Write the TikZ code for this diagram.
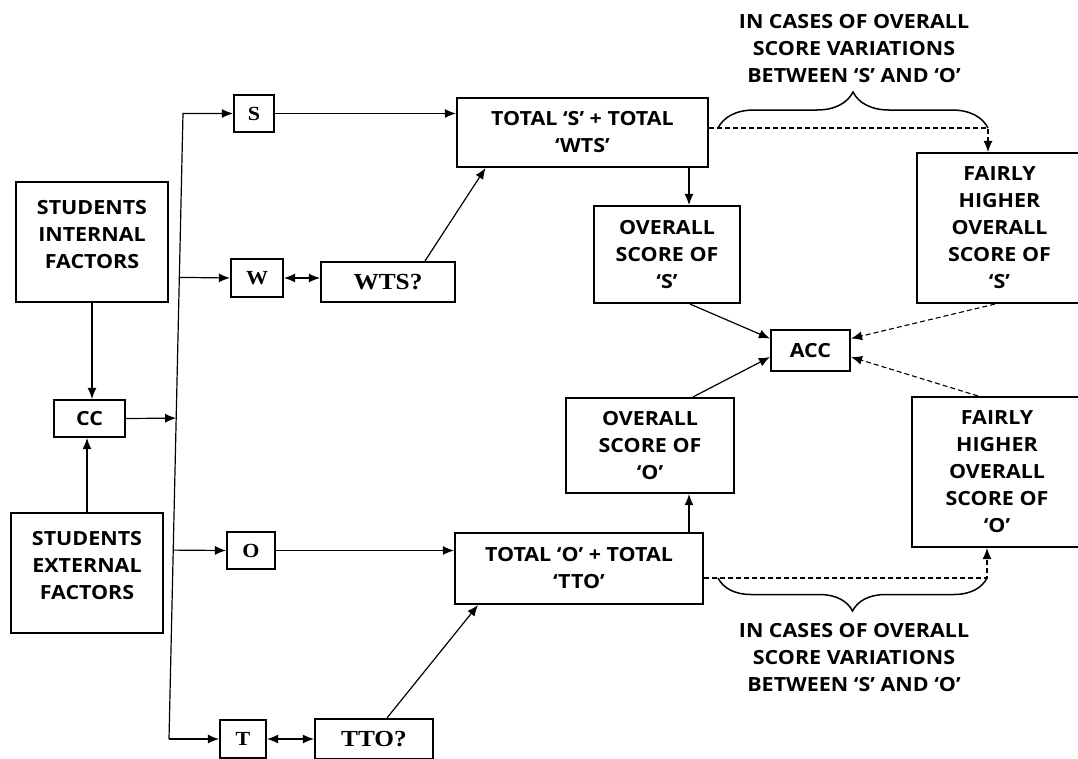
\documentclass[tikz,border=0pt]{standalone}
\usepackage{fontspec}
\setmainfont{Open Sans}[FakeStretch=1.1]
\newfontfamily\timesbox{Liberation Serif}[FakeStretch=1.1]
\usetikzlibrary{arrows.meta,calc,decorations.pathreplacing}

\begin{document}
\begin{tikzpicture}[
  x=1pt,
  y=-1pt,
  >={Latex[length=11pt,width=9pt]},
  every node/.style={font=\bfseries\fontsize{19.5}{27}\selectfont},
  box/.style={draw=black, line width=2.1pt, align=center, inner sep=0pt},
  letterbox/.style={box, font=\timesbox\bfseries\fontsize{20}{22}\selectfont},
  askbox/.style={box, font=\timesbox\bfseries\fontsize{23}{26}\selectfont},
  link/.style={->, line width=1.2pt},
  dashlink/.style={->, line width=1.1pt, dash pattern=on 5pt off 3pt},
  brace/.style={decorate, decoration={brace, amplitude=#1}, line width=1.5pt},
  note/.style={align=center}
]
  \useasboundingbox (0,0) rectangle (1078,758);
  \clip (0,0) rectangle (1078,758);

  % factors and CC
  \node[box, minimum width=152, minimum height=120] (inF) at (92,242) {STUDENTS\\INTERNAL\\FACTORS\\[-11pt]\mbox{}};
  \node[box, minimum width=71, minimum height=37] (cc) at (89.5,418.5) {CC};
  \node[box, minimum width=152, minimum height=120] (exF) at (87,573) {STUDENTS\\EXTERNAL\\FACTORS\\[-11pt]\mbox{}};

  % letter boxes
  \node[letterbox, minimum width=40, minimum height=37] (sbox) at (254,113.5) {S};
  \node[letterbox, minimum width=52, minimum height=38] (wbox) at (257,278) {W};
  \node[askbox, minimum width=134, minimum height=40] (wts) at (388,282) {WTS?};
  \node[letterbox, minimum width=48, minimum height=37] (obox) at (251,550.5) {O};
  \node[letterbox, minimum width=46, minimum height=38] (tbox) at (243,739) {T};
  \node[askbox, minimum width=118, minimum height=40] (tto) at (374,739) {TTO?};

  % totals and scores
  \node[box, minimum width=251, minimum height=69] (totS) at (582.5,132.5) {TOTAL ‘S’ + TOTAL\\‘WTS’};
  \node[box, minimum width=146, minimum height=97] (ovS) at (667,254.5) {OVERALL\\SCORE OF\\‘S’};
  \node[box, minimum width=165, minimum height=150] (fairS) at (999.5,228) {FAIRLY\\HIGHER\\OVERALL\\SCORE OF\\‘S’};
  \node[box, minimum width=79, minimum height=41] (acc) at (810.5,350.5) {ACC};
  \node[box, minimum width=168, minimum height=95] (ovO) at (650,445.5) {OVERALL\\SCORE OF\\‘O’};
  \node[box, minimum width=170, minimum height=150] (fairO) at (997,472) {FAIRLY\\HIGHER\\OVERALL\\SCORE OF\\‘O’};
  \node[box, minimum width=248, minimum height=71] (totO) at (579,568.5) {TOTAL ‘O’ + TOTAL\\‘TTO’};

  % notes
  \node[note] (noteS) at (854,49) {IN CASES OF OVERALL\\SCORE VARIATIONS\\BETWEEN ‘S’ AND ‘O’};
  \node[note] (noteO) at (854,658) {IN CASES OF OVERALL\\SCORE VARIATIONS\\BETWEEN ‘S’ AND ‘O’};

  % bus
  \coordinate (busTop) at (183,113.5);
  \coordinate (busBot) at (169,739);
  \coordinate (jW) at ($(busTop)!0.262!(busBot)$);
  \coordinate (jC) at ($(busTop)!0.487!(busBot)$);
  \coordinate (jO) at ($(busTop)!0.698!(busBot)$);

  \draw[link] (inF.south) -- (inF.south |- cc.north);
  \draw[link] (exF.north) -- (exF.north |- cc.south);
  \draw[link] (cc.east) -- (jC);
  \draw[link] (busBot) -- (busTop) -- (sbox.west);
  \draw[link] (busBot) -- (tbox.west);
  \draw[link] (jW) -- (wbox.west);
  \draw[link] (jO) -- (obox.west);

  \draw[link, <->] (wbox.east) -- (wbox.east -| wts.west);
  \draw[link, <->] (tbox.east) -- (tbox.east -| tto.west);
  \draw[link] (sbox.east) -- (sbox.east -| totS.west);
  \draw[link] (obox.east) -- (obox.east -| totO.west);
  \draw[link] ([xshift=37pt]wts.north) -- ([xshift=-97pt]totS.south);
  \draw[link] ([xshift=13pt]tto.north) -- ([xshift=-101pt]totO.south);

  \draw[link] ([xshift=22pt]ovS.north |- totS.south) -- ([xshift=22pt]ovS.north);
  \draw[link] ([xshift=39pt]ovO.south |- totO.north) -- ([xshift=39pt]ovO.south);

  \draw[link] ([xshift=23pt]ovS.south) -- ([yshift=12pt]acc.west);
  \draw[link] ([xshift=43pt]ovO.north) -- ([yshift=-6.5pt]acc.west);
  \draw[dashlink] ([xshift=-4.5pt]fairS.south) -- ([yshift=12pt]acc.east);
  \draw[dashlink] ([xshift=-19pt]fairO.north) -- ([yshift=-6.5pt]acc.east);

  % variation paths
  \draw[dashlink] ([yshift=4.5pt]totS.east) -| ([xshift=-11.5pt]fairS.north);
  \draw[dashlink] ([yshift=-9.5pt]totO.east) -| ([xshift=-10pt]fairO.south);
  \draw[brace=36pt] (718,128) -- (988,128);
  \draw[brace=33pt] (987,578) -- (718,578);
\end{tikzpicture}
\end{document}
